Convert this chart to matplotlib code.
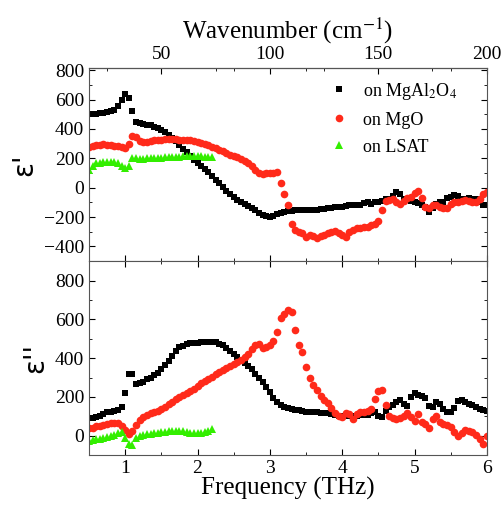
import numpy as np
import matplotlib
matplotlib.use('Agg')
import matplotlib.pyplot as plt
from matplotlib.ticker import MultipleLocator

plt.rcParams['font.family'] = ['Liberation Serif', 'DejaVu Serif']
plt.rcParams['mathtext.fontset'] = 'stix'

# frequency grid (THz), read every 0.05 THz
freq = np.round(np.arange(0.5, 6.0001, 0.05), 2)
freq_lsat = freq[freq <= 2.2001]

# real part eps'
eps1_mgal = [505, 500, 505, 510, 510, 515, 520, 530, 560, 600,
             640, 610, 520, 450, 440, 435, 430, 425, 415, 405,
             395, 378, 360, 340, 315, 290, 265, 240, 215, 190,
             170, 150, 130, 105, 80, 55, 30, 5, -20, -45,
             -65, -85, -100, -110, -125, -140, -155, -170, -185, -195,
             -198, -192, -180, -170, -165, -160, -158, -155, -155, -152,
             -152, -150, -152, -150, -148, -142, -140, -135, -130, -128,
             -130, -125, -120, -118, -115, -120, -105, -100, -110, -95,
             -100, -90, -75, -80, -55, -30, -40, -75, -80, -90,
             -100, -105, -115, -130, -165, -140, -110, -100, -95, -70,
             -60, -50, -55, -80, -75, -70, -75, -80, -100, -115,
             -120]
eps1_mgo = [275, 285, 290, 292, 295, 292, 290, 285, 283, 275,
            270, 300, 350, 345, 320, 310, 312, 318, 322, 325,
            328, 335, 335, 332, 330, 328, 328, 325, 322, 318,
            312, 305, 300, 290, 280, 268, 258, 248, 235, 225,
            218, 208, 195, 180, 165, 145, 120, 100, 95, 100,
            100, 98, 110, 30, -45, -120, -250, -285, -300, -310,
            -335, -320, -330, -345, -330, -320, -310, -300, -295, -310,
            -320, -335, -300, -285, -275, -275, -270, -265, -255, -245,
            -225, -150, -90, -85, -80, -95, -110, -90, -70, -60,
            -35, -25, -70, -130, -140, -120, -115, -130, -140, -135,
            -110, -95, -100, -90, -85, -90, -95, -100, -80, -40,
            -30]
eps1_lsat = [120, 150, 165, 170, 178, 175, 178, 175, 170, 145,
             135, 150, 200, 205, 195, 198, 200, 200, 202, 205,
             205, 208, 208, 210, 210, 212, 213, 215, 215, 216,
             215, 214, 212, 210, 208]

# imaginary part eps''
eps2_mgal = [90, 92, 95, 100, 110, 120, 125, 130, 135, 150,
             220, 320, 318, 265, 270, 278, 290, 300, 312, 325,
             345, 365, 385, 410, 435, 455, 465, 472, 476, 478,
             480, 482, 483, 484, 484, 482, 475, 466, 450, 435,
             420, 405, 390, 375, 360, 342, 320, 298, 275, 250,
             225, 195, 172, 160, 150, 145, 140, 135, 132, 128,
             125, 123, 121, 120, 118, 116, 115, 110, 106, 104,
             104, 105, 103, 104, 104, 106, 105, 108, 115, 125,
             100, 95, 130, 150, 160, 175, 185, 165, 155, 200,
             222, 210, 205, 195, 155, 150, 175, 165, 140, 125,
             120, 145, 180, 185, 175, 165, 160, 150, 140, 135,
             130]
eps2_mgo = [38, 42, 48, 52, 58, 62, 65, 65, 65, 50,
            30, 8, 25, 55, 82, 95, 105, 115, 122, 130,
            140, 150, 165, 175, 188, 198, 208, 220, 232, 242,
            258, 270, 280, 292, 305, 318, 328, 338, 348, 358,
            368, 380, 392, 405, 420, 445, 470, 472, 452, 458,
            468, 490, 535, 605, 630, 650, 640, 545, 470, 430,
            355, 300, 260, 235, 205, 185, 170, 145, 118, 100,
            95, 115, 112, 88, 110, 120, 125, 130, 140, 190,
            232, 238, 160, 100, 90, 88, 90, 100, 115, 95,
            78, 110, 70, 60, 40, 85, 100, 70, 60, 55,
            45, 20, 0, 15, 28, 25, 18, 5, -15, -40,
            0]
eps2_lsat = [-25, -22, -18, -15, -10, -5, 0, 5, 12, 20,
             -10, -40, -50, -10, 0, 5, 8, 10, 12, 15,
             18, 20, 22, 24, 25, 25, 22, 20, 15, 12,
             12, 15, 18, 25, 35]

labels = ['on MgAl$_2$O$_4$', 'on MgO', 'on LSAT']
red = '#ff2a1a'
green = '#33ee00'

fig = plt.figure(figsize=(5.03, 5.08), dpi=100)
ax1 = fig.add_axes([0.177, 0.486, 0.791, 0.380])
ax2 = fig.add_axes([0.177, 0.104, 0.791, 0.382], sharex=ax1)

ax1.plot(freq, eps1_mgal, 's', color='black', ms=4.5, mew=0, label=labels[0])
ax1.plot(freq, eps1_mgo, 'o', color=red, ms=5.5, mew=0, label=labels[1])
ax1.plot(freq_lsat, eps1_lsat, '^', color=green, ms=6, mew=0, label=labels[2])

ax2.plot(freq, eps2_mgal, 's', color='black', ms=4.5, mew=0)
ax2.plot(freq, eps2_mgo, 'o', color=red, ms=5.5, mew=0)
ax2.plot(freq_lsat, eps2_lsat, '^', color=green, ms=6, mew=0)

ax1.set_xlim(0.5, 6)
ax1.set_ylim(-500, 815)
ax2.set_ylim(-100, 900)

for ax in (ax1, ax2):
    ax.xaxis.set_major_locator(MultipleLocator(1))
    ax.xaxis.set_minor_locator(MultipleLocator(0.5))
    ax.yaxis.set_major_locator(MultipleLocator(200))
    ax.yaxis.set_minor_locator(MultipleLocator(100))
    ax.tick_params(which='both', direction='in', top=True, right=True, labelsize=14)
    ax.tick_params(which='major', length=4)
    ax.tick_params(which='minor', length=2.5)
    for s in ax.spines.values():
        s.set_color('#555555')

ax1.tick_params(labelbottom=False, top=False)
ax1.set_yticks([-400, -200, 0, 200, 400, 600, 800])
ax2.set_yticks([0, 200, 400, 600, 800])

# top axis in wavenumbers
THZ2CM = 33.356
sec = ax1.secondary_xaxis('top', functions=(lambda f: f * THZ2CM, lambda k: k / THZ2CM))
sec.set_xticks([50, 100, 150, 200])
sec.xaxis.set_minor_locator(MultipleLocator(25))
sec.tick_params(which='both', direction='in', labelsize=14, pad=4)
sec.tick_params(which='major', length=4)
sec.tick_params(which='minor', length=2.5)
sec.set_xlabel('Wavenumber (cm$^{-1}$)', fontsize=18, labelpad=5)

ax1.set_ylabel("ε'", fontsize=20, family='DejaVu Sans', labelpad=4)
ax2.set_ylabel("ε''", fontsize=20, family='DejaVu Sans', labelpad=4)
ax2.set_xlabel('Frequency (THz)', fontsize=18, labelpad=0)

ax1.legend(loc='upper right', bbox_to_anchor=(0.957, 1.0), frameon=False, fontsize=13,
           handletextpad=0.7, borderaxespad=0.3, labelspacing=0.55, handlelength=1.2)

plt.savefig('out.png', dpi=100)
plt.close()
